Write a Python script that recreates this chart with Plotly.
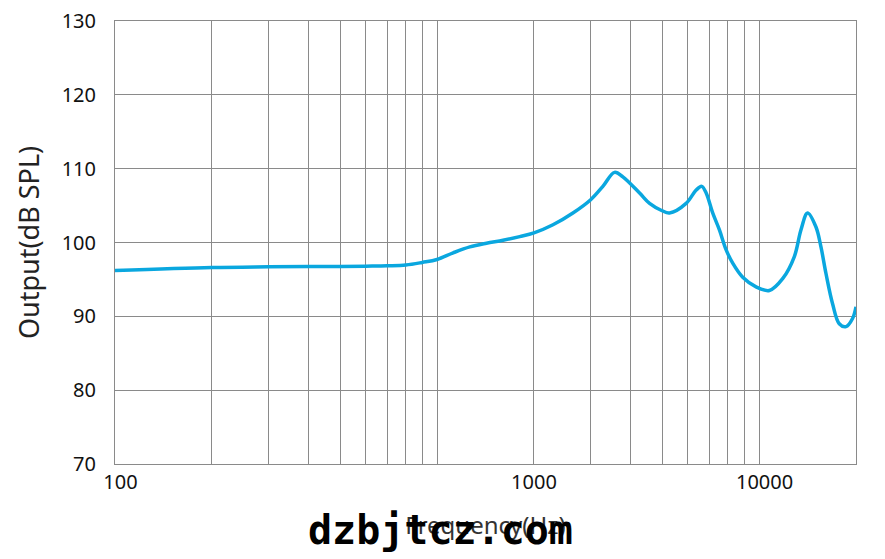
import plotly.graph_objects as go

# frequency response
freq_hz = [100, 200, 300, 400, 500, 600, 700, 800, 900, 1000, 1122, 1264, 1424,
           1603, 1806, 2000, 2291, 2642, 3000, 3273, 3558, 3776, 4256, 4571,
           5000, 5271, 5937, 6378, 6637, 6850, 7178, 7532, 7903, 8283, 8896,
           9788, 10764, 11837, 12870, 13490, 14148, 15022, 15567, 16135, 16915,
           17742, 18620, 19512, 20000]
output_db = [96.2, 96.6, 96.7, 96.75, 96.75, 96.8, 96.85, 96.95, 97.3, 97.7,
             98.6, 99.4, 99.9, 100.3, 100.8, 101.3, 102.4, 104.0, 105.8, 107.6,
             109.5, 108.9, 106.7, 105.3, 104.3, 104.0, 105.3, 107.1, 107.6,
             106.7, 104.0, 101.7, 99.0, 97.2, 95.3, 94.0, 93.5, 95.1, 98.1,
             101.7, 104.0, 102.1, 99.4, 95.8, 91.7, 89.0, 88.6, 89.7, 91.3]

grid_freqs = [100, 200, 300, 400, 500, 600, 700, 800, 900, 1000,
              2000, 3000, 4000, 5000, 6000, 7000, 8000, 9000, 10000, 20000]

# the source prints its x labels a little off the decade lines; keep that look
label_pos = [104, 2000, 10400]
label_text = ["100", "1000", "10000"]

fig = go.Figure()
fig.add_trace(go.Scatter(
    x=freq_hz, y=output_db, mode="lines",
    line=dict(color="#0aa7df", width=3.5, shape="spline", smoothing=1.0),
    showlegend=False,
))

font = "Noto Sans, Open Sans, sans-serif"
fig.update_layout(
    width=885, height=559,
    margin=dict(l=115, r=29, t=21, b=95, autoexpand=False),
    paper_bgcolor="white", plot_bgcolor="white",
    font=dict(family=font, size=20, color="#111"),
)
fig.update_xaxes(
    type="log", range=[2, 4.30103], automargin=False,
    tickvals=label_pos, ticktext=label_text, showgrid=False,
    ticks="", ticklen=0,
    minor=dict(tickvals=grid_freqs, showgrid=True, gridcolor="#8a8a8a", gridwidth=1, ticks=""),
    showline=True, linecolor="#8a8a8a", mirror=True, zeroline=False,
    title=dict(text="Frequency(Hz)", font=dict(size=24, color="#333"), standoff=23),
)
fig.update_yaxes(
    range=[70, 130], dtick=10, showgrid=True, gridcolor="#8a8a8a", gridwidth=1,
    showline=True, linecolor="#8a8a8a", mirror=True, zeroline=False,
    ticks="outside", ticklen=14, tickcolor="white", automargin=False,
    title=dict(text="Output(dB SPL)", font=dict(size=27, color="#222"), standoff=14),
)

# site watermark sitting over the x title
fig.add_annotation(
    text="<b>dzbjtcz.com</b>", xref="paper", yref="paper",
    x=(440 - 115) / (856 - 115), y=-(530 - 464) / (464 - 21),
    xanchor="center", yanchor="middle", showarrow=False,
    font=dict(family="DejaVu Sans Mono, Liberation Mono, monospace", size=40, color="black"),
)

# drop the browser's default 8px body margin so the figure fills the window
fig.write_html("out.html", config={"displayModeBar": False},
               post_script="document.body.style.margin = '0';")
